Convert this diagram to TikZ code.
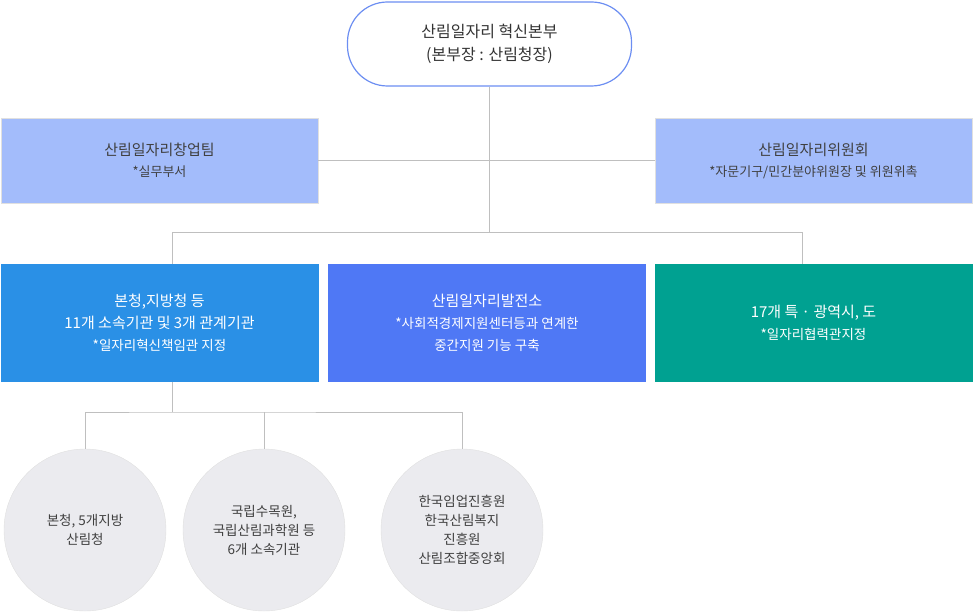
\documentclass[tikz,border=0pt]{standalone}
\usepackage{fontspec}
\setmainfont{Noto Sans CJK KR}
\begin{document}
\begin{tikzpicture}[x=1pt,y=-1pt,
  ln/.style={draw=black!25,line width=0.8pt},
  lbox/.style={draw=black!12,fill=lblue,minimum width=317pt,minimum height=85pt,align=center,text=black!75,font=\fontsize{15}{21}\selectfont},
  cbox/.style={minimum width=318pt,minimum height=118pt,align=center,text=white,font=\fontsize{15}{22}\selectfont},
  circ/.style={circle,draw=black!12,fill=cgray,minimum size=162pt,align=center,text=black!75,font=\fontsize{13.5}{19}\selectfont},
  sub/.style={}]
\definecolor{lblue}{HTML}{A3BCFB}
\definecolor{b1}{HTML}{2A90E6}
\definecolor{b2}{HTML}{4F78F5}
\definecolor{b3}{HTML}{00A191}
\definecolor{cgray}{HTML}{EBEBEF}
\definecolor{tb}{HTML}{6C8EF2}
\useasboundingbox (0,0) rectangle (973,612);
\node[draw=tb,line width=1.2pt,fill=white,rounded corners=40pt,minimum width=284pt,minimum height=84pt,align=center,text=black!80,font=\fontsize{16}{23}\selectfont] (top) at (489.5,44) {산림일자리 혁신본부\\(본부장 : 산림청장)};
\node[lbox] (l) at (159.5,160.5) {산림일자리창업팀\\{\fontsize{13}{20}\selectfont *실무부서}};
\node[lbox] (r) at (813.5,160.5) {산림일자리위원회\\{\fontsize{13}{20}\selectfont *자문기구/민간분야위원장 및 위원위촉}};
\coordinate (j) at (489.5,232);
\coordinate (ja) at (172,232);
\coordinate (jc) at (802,232);
\draw[ln] (top.south) -- (j);
\draw[ln] (l.east) -- (r.west);
\node[cbox,fill=b1] (a) at (159.5,323) {본청,지방청 등\\11개 소속기관 및 3개 관계기관\\{\fontsize{13.5}{21}\selectfont *일자리혁신책임관 지정}};
\node[cbox,fill=b2] (b) at (487,323) {산림일자리발전소\\{\fontsize{13.5}{21}\selectfont *사회적경제지원센터등과 연계한}\\{\fontsize{13.5}{21}\selectfont 중간지원 기능 구축}};
\node[cbox,fill=b3] (c) at (813.5,323) {17개 특 · 광역시, 도\\{\fontsize{13.5}{21}\selectfont *일자리협력관지정}};
\draw[ln] (a.north -| ja) -- (ja) -- (jc) -- (c.north -| jc);
\node[circ] (c1) at (85,530) {본청, 5개지방\\산림청};
\node[circ] (c2) at (264,530) {국립수목원,\\국립산림과학원 등\\6개 소속기관};
\node[circ] (c3) at (462,530) {한국임업진흥원\\한국산림복지\\진흥원\\산림조합중앙회};
\coordinate (k) at (172,412);
\draw[ln] (a.south -| k) -- (k);
\draw[ln] (c1.north) |- (k) -| (c3.north);
\draw[ln] (c2.north) -- (c2.north |- k);
\end{tikzpicture}
\end{document}
